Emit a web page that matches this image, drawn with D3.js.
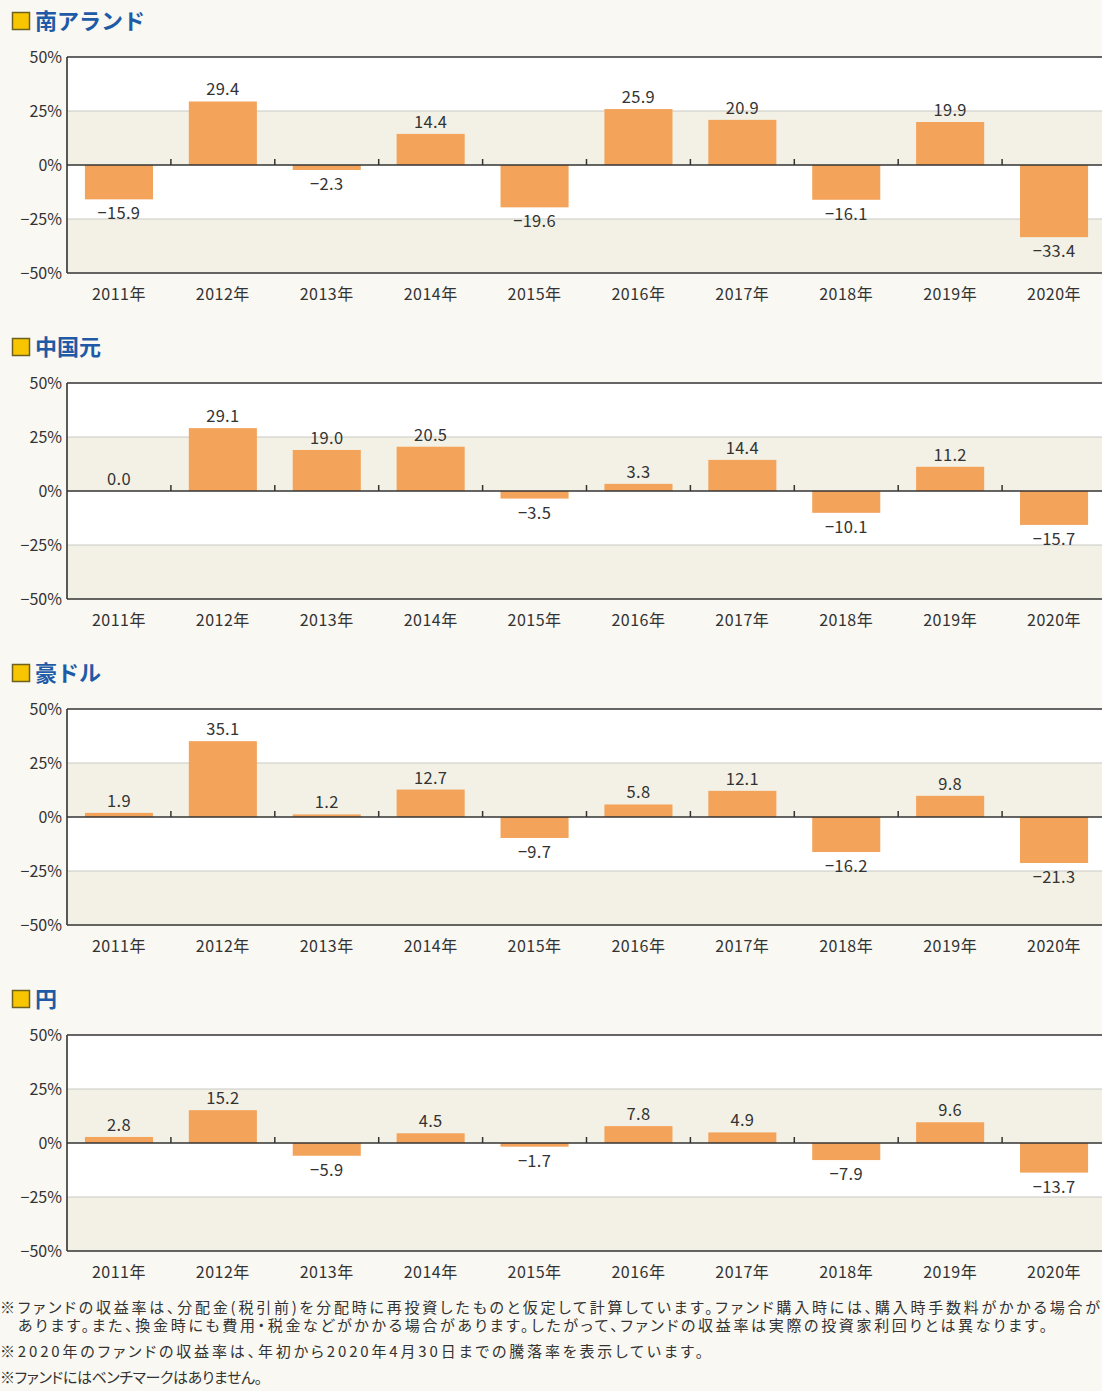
<!DOCTYPE html>
<meta charset="utf-8">
<script src="https://d3js.org/d3.v7.min.js"></script>
<style>
    body {margin: 0; background: #f9f8f2; font-family: 'Noto Sans CJK JP', 'Noto Sans', sans-serif;}
    svg {display: block;}
    .note {font-feature-settings: "palt";}
</style>
<body>
<svg width="1102" height="1391"></svg>
<script>
    // chart values
    const years = ["2011年","2012年","2013年","2014年","2015年","2016年","2017年","2018年","2019年","2020年"];
    const titles = ["南アランド","中国元","豪ドル","円"];
    const zar = [-15.9, 29.4, -2.3, 14.4, -19.6, 25.9, 20.9, -16.1, 19.9, -33.4];
    const cny = [0.0, 29.1, 19.0, 20.5, -3.5, 3.3, 14.4, -10.1, 11.2, -15.7];
    const aud = [1.9, 35.1, 1.2, 12.7, -9.7, 5.8, 12.1, -16.2, 9.8, -21.3];
    const jpy = [2.8, 15.2, -5.9, 4.5, -1.7, 7.8, 4.9, -7.9, 9.6, -13.7];
    const yTicks = [50, 25, 0, -25, -50];
    const notes = [
        "※ファンドの収益率は、分配金(税引前)を分配時に再投資したものと仮定して計算しています。ファンド購入時には、購入時手数料がかかる場合が",
        "あります。また、換金時にも費用・税金などがかかる場合があります。したがって、ファンドの収益率は実際の投資家利回りとは異なります。",
        "※2020年のファンドの収益率は、年初から2020年4月30日までの騰落率を表示しています。",
        "※ファンドにはベンチマークはありません。"
    ];

    const series = [zar, cny, aud, jpy];
    const svg = d3.select("svg");
    const left = 67, right = 1106, plotH = 216, firstTop = 57, gap = 326;
    const barColor = "#f3a35a", band = "#f3f1e5", ink = "#333";

    const x = d3.scaleBand().domain(years).range([left, right])
        .paddingInner(0.345).paddingOuter(0.1725);
    const xOuter = d3.scaleBand().domain(years).range([left, right]);

    const fmt = v => (v < 0 ? "−" + d3.format(".1f")(-v) : d3.format(".1f")(v));

    series.forEach(function(vals, i){
        const top = firstTop + i*gap;
        const g = svg.append("g");
        const y = d3.scaleLinear().domain([-50, 50]).range([top + plotH, top]);

        // title
        g.append("rect")
            .attr("x", 12.5).attr("y", top - 44.5)
            .attr("width", 17).attr("height", 17)
            .attr("fill", "#f7c600").attr("stroke", "#6e6020").attr("stroke-width", 1.5);
        g.append("text")
            .attr("x", 35).attr("y", top - 28)
            .style("font-size", "22px").style("font-weight", "bold")
            .style("fill", "#1e5aa6")
            .text(titles[i]);

        // bands
        g.append("rect").attr("x", left).attr("y", y(50))
            .attr("width", right - left).attr("height", y(25) - y(50)).attr("fill", "#fff");
        g.append("rect").attr("x", left).attr("y", y(25))
            .attr("width", right - left).attr("height", y(0) - y(25)).attr("fill", band);
        g.append("rect").attr("x", left).attr("y", y(0))
            .attr("width", right - left).attr("height", y(-25) - y(0)).attr("fill", "#fff");
        g.append("rect").attr("x", left).attr("y", y(-25))
            .attr("width", right - left).attr("height", y(-50) - y(-25)).attr("fill", band);

        // grid
        g.selectAll(".grid").data([25, -25]).enter().append("line")
            .attr("x1", left).attr("x2", right)
            .attr("y1", d => y(d)).attr("y2", d => y(d))
            .style("stroke", "#c9c9c4").style("stroke-width", 1);

        // bars
        g.selectAll(".bar").data(vals).enter().append("rect")
            .attr("x", (d, j) => x(years[j]))
            .attr("width", x.bandwidth())
            .attr("y", d => y(Math.max(0, d)))
            .attr("height", d => Math.abs(y(d) - y(0)))
            .attr("fill", barColor);

        // value labels
        g.selectAll(".val").data(vals).enter().append("text")
            .attr("x", (d, j) => x(years[j]) + x.bandwidth()/2)
            .attr("y", d => d >= 0 ? y(d) - 6 : y(d) + 20)
            .attr("text-anchor", "middle")
            .style("font-size", "16.5px").style("letter-spacing", "0.3px").style("fill", ink)
            .text(fmt);

        // borders
        [50, 0, -50].forEach(function(v){
            g.append("line").attr("x1", left).attr("x2", right)
                .attr("y1", y(v)).attr("y2", y(v))
                .style("stroke", ink).style("stroke-width", 1.6);
        });
        g.append("line").attr("x1", left).attr("x2", left)
            .attr("y1", y(50)).attr("y2", y(-50))
            .style("stroke", ink).style("stroke-width", 1.6);

        // ticks on zero line
        g.selectAll(".tick").data(years.slice(1)).enter().append("line")
            .attr("x1", d => xOuter(d)).attr("x2", d => xOuter(d))
            .attr("y1", y(0)).attr("y2", y(0) - 6)
            .style("stroke", ink).style("stroke-width", 1.5);

        // y labels
        g.selectAll(".ylab").data(yTicks).enter().append("text")
            .attr("x", 62).attr("y", d => y(d) + 5.5)
            .attr("text-anchor", "end")
            .style("font-size", "16px").style("fill", ink)
            .text(d => (d < 0 ? "−" + (-d) : d) + "%");

        // x labels
        g.selectAll(".xlab").data(years).enter().append("text")
            .attr("x", d => xOuter(d) + xOuter.bandwidth()/2)
            .attr("y", top + plotH + 27)
            .attr("text-anchor", "middle")
            .style("font-size", "16px").style("letter-spacing", "0.5px").style("fill", ink)
            .text(d => d);
    });

    // footnotes
    const noteX = [0, 18, 0, 0];
    const noteY = [1313, 1331, 1357, 1383];
    const noteW = [1100, 1029, 703, 262];
    svg.selectAll(".note").data(notes).enter().append("text")
        .attr("class", "note")
        .attr("x", (d, i) => noteX[i])
        .attr("y", (d, i) => noteY[i])
        .attr("textLength", (d, i) => noteW[i])
        .attr("lengthAdjust", "spacing")
        .style("font-size", "15px").style("fill", "#333")
        .text(d => d);
</script>
</body>
